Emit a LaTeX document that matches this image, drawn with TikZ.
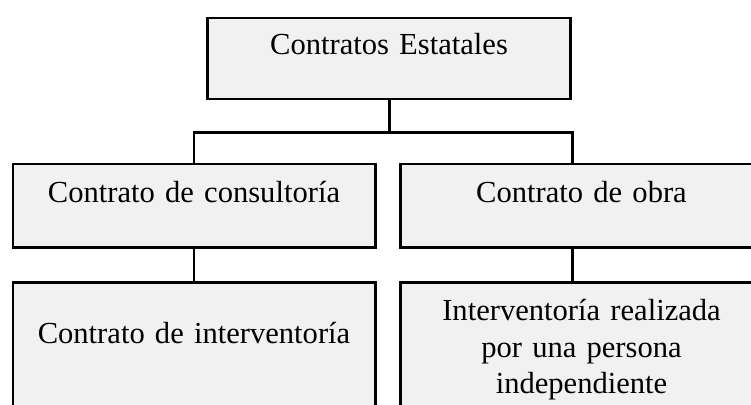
\documentclass[tikz,border=0pt]{standalone}
\usepackage{fontspec}
\setmainfont{Liberation Serif}
\usepackage{tikz}
\usetikzlibrary{positioning}
\definecolor{boxfill}{HTML}{F1F1F1}

\begin{document}
\begin{tikzpicture}[box/.style={draw=black, fill=boxfill, line width=1.7pt, inner sep=0pt, minimum width=7.24cm},
  txt/.style={anchor=base, inner sep=0pt, font=\fontsize{17.4}{20.8}\selectfont, text width=7cm, align=center},
  conn/.style={draw=black, line width=1.7pt}]
\useasboundingbox (0,0) rectangle (15.02,-8.08);
\clip (0,0) rectangle (15.02,-8.08);

% --- TOP: STATE CONTRACTS ---
\node[box, minimum width=7.25cm, minimum height=1.62cm] (top) at (7.78, -1.17) {};
\node[txt] (topt) at ([yshift=-0.76cm]top.north) {Contratos Estatales};

% --- MIDDLE: CONTRACT TYPES ---
\node[box, minimum height=1.66cm] (cons) at (3.88, -4.11) {};
\node[txt] (const) at ([yshift=-0.8cm]cons.north) {Contrato de consultoría};
\node[box, minimum height=1.66cm] (obra) at (11.63, -4.11) {};
\node[txt] (obrat) at ([yshift=-0.8cm]obra.north) {Contrato de obra};

% --- BOTTOM: SUPERVISION ---
\node[box, minimum height=2.6cm] (inter) at (3.88, -6.94) {};
\node[txt] (intert) at ([yshift=-1.26cm]inter.north) {Contrato de interventoría};
\node[box, minimum height=2.6cm] (indep) at (11.63, -6.94) {};
\node[txt] (indept) at ([yshift=-0.8cm]indep.north) {Interventoría realizada\\ por una persona\\ independiente};

% --- Connectors ---
\coordinate (rline) at (11.44, 0); % right branch
\draw[conn] (top.south) -- ++(0,-0.64) coordinate (fork);
\draw[conn] (cons.north) |- (fork) -| (rline |- obra.north);
\draw[conn] (cons.south) -- (inter.north);
\draw[conn] (rline |- obra.south) -- (rline |- indep.north);
\end{tikzpicture}
\end{document}
